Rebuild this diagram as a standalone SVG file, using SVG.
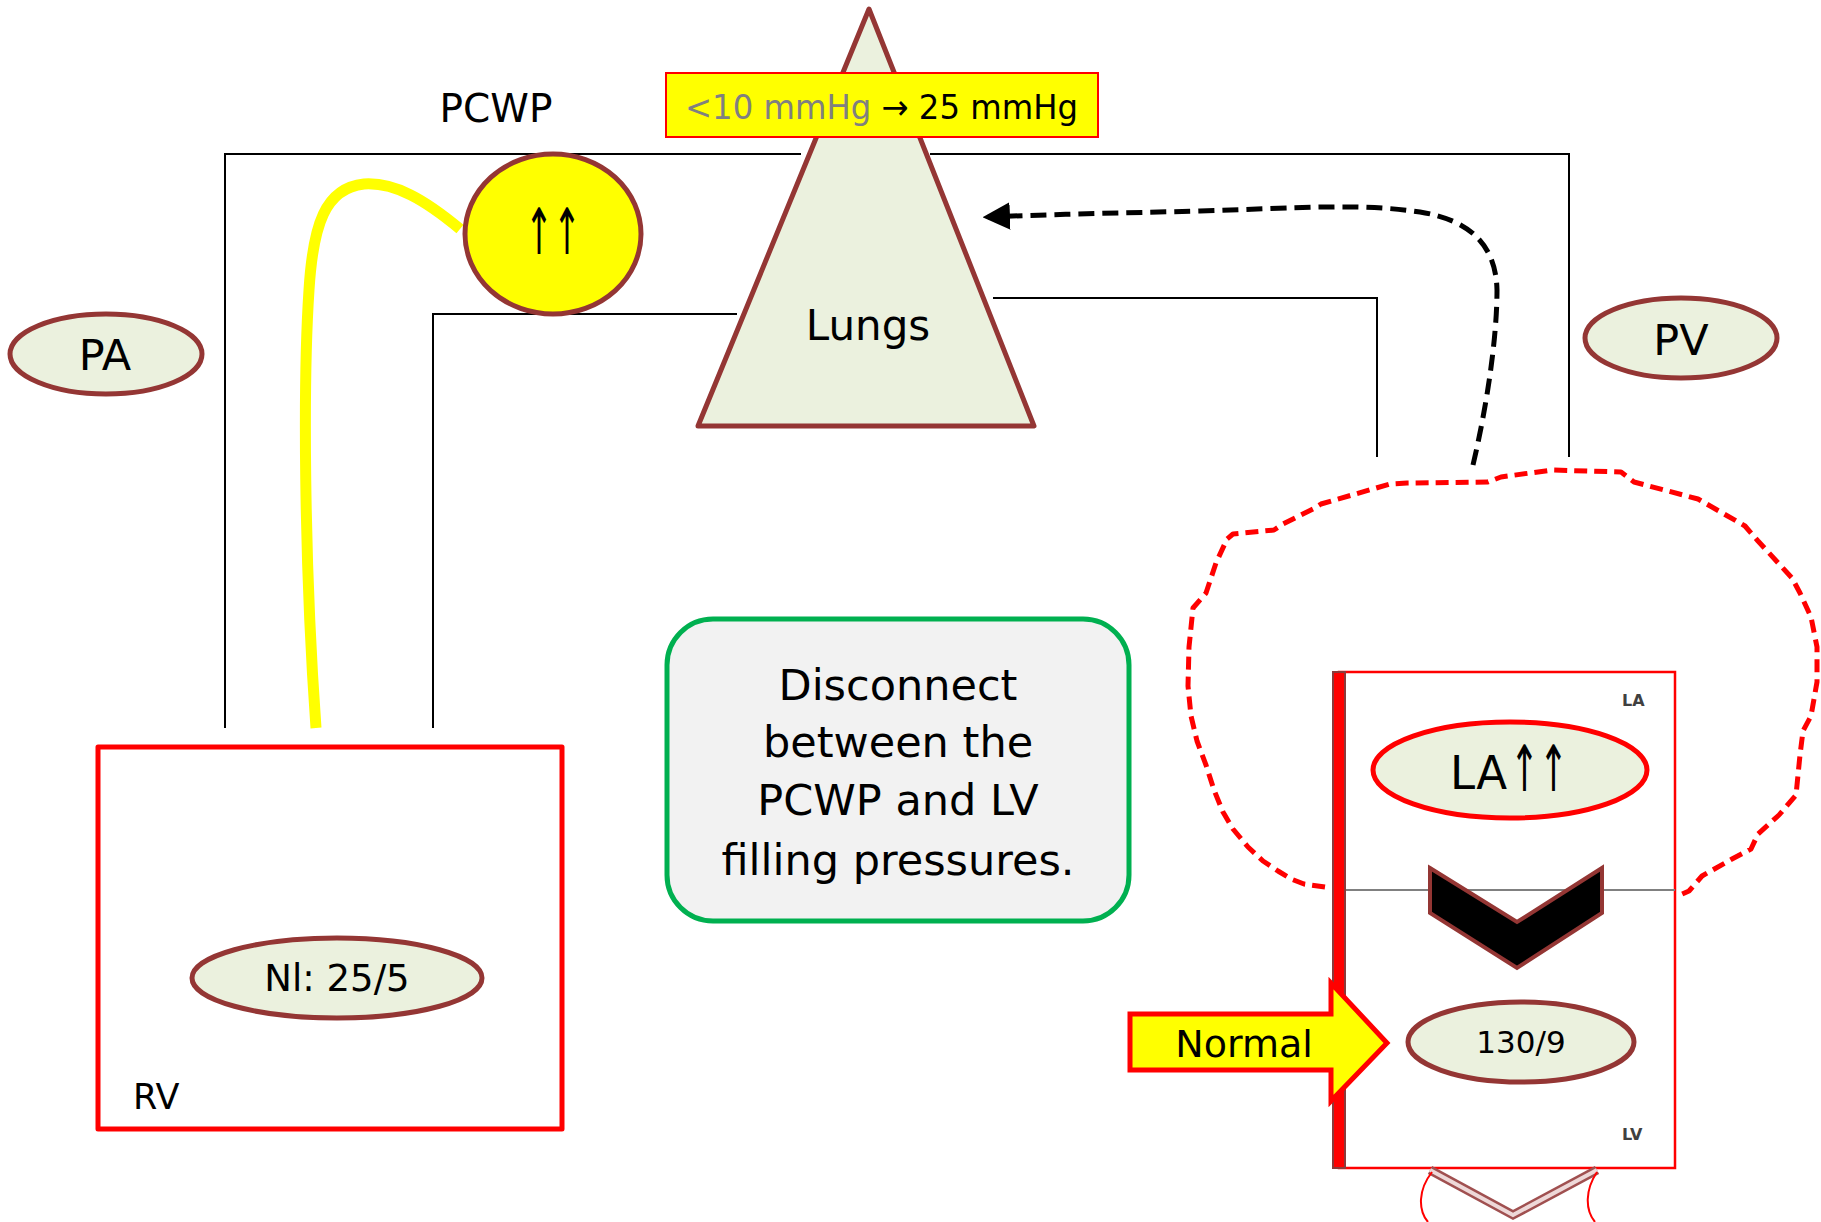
<svg xmlns="http://www.w3.org/2000/svg" width="1821" height="1222" viewBox="0 0 1821 1222">
  <style>
    text { font-family: "DejaVu Sans", sans-serif; fill: #000; }
    .oval { fill: #EBF1DE; stroke: #943634; stroke-width: 5; }
    .vessel { fill: none; stroke: #000; stroke-width: 2; }
    .mid { text-anchor: middle; }
  </style>
  <defs>
    <marker id="arrowL" viewBox="0 0 10 10" refX="8" refY="5" markerWidth="5.5" markerHeight="5.5" orient="auto" markerUnits="strokeWidth">
      <path d="M0,0 L10,5 L0,10 z" fill="#000"/>
    </marker>
  </defs>

  <!-- vessel outlines and flow lines -->
  <g id="connectors">
    <path class="vessel" d="M225,728 V154 H801"/>
    <path class="vessel" d="M930,154 H1569 V457"/>
    <path class="vessel" d="M433,728 V314 H737"/>
    <path class="vessel" d="M993,298 H1377 V457"/>
    <path d="M460,229 C425,200 395,182 364,184 C325,188 313,225 309,290 C303,380 304,560 316,728" fill="none" stroke="#FFFF00" stroke-width="11"/>
    <path d="M1473,465 C1486,410 1497,340 1497,290 C1496,245 1470,220 1420,212 C1360,203 1300,208 1200,211 C1120,213 1060,214 988,217" fill="none" stroke="#000" stroke-width="5" stroke-dasharray="16 8" marker-end="url(#arrowL)"/>
    <path d="M1325,887 L1304,884 L1291,879 L1278,871 L1263,861 L1248,847 L1233,829 L1223,812 L1214,790 L1206,765 L1197,741 L1191,716 L1188,686 L1189,647 L1193,608 L1206,593 L1216,563 L1227,539 L1233,534 L1274,530 L1283,524 L1313,509 L1321,504 L1390,484 L1407,483 L1488,482 L1501,477 L1552,470 L1621,472 L1634,482 L1698,499 L1745,526 L1758,541 L1792,578 L1800,593 L1811,617 L1817,647 L1817,682 L1811,716 L1803,731 L1800,755 L1796,795 L1779,815 L1758,834 L1751,849 L1732,859 L1702,876 L1689,891 L1678,896" fill="none" stroke="#FF0000" stroke-width="5" stroke-dasharray="13 7" stroke-linejoin="round"/>
  </g>

  <g id="lungs">
    <polygon points="869,9 1034,426 698,426" fill="#EBF1DE" stroke="#943634" stroke-width="5" stroke-linejoin="round"/>
    <text class="mid" x="868" y="340" font-size="42">Lungs</text>
  </g>

  <g id="pressure-label">
    <rect x="666" y="73" width="432" height="64" fill="#FFFF00" stroke="#FF0000" stroke-width="2"/>
    <text x="685" y="119" font-size="34" textLength="393" lengthAdjust="spacingAndGlyphs"><tspan style="fill:#808080">&lt;10 mmHg</tspan> → 25 mmHg</text>
  </g>

  <g id="pcwp">
    <text class="mid" x="496" y="122" font-size="39">PCWP</text>
    <ellipse cx="553" cy="234" rx="88" ry="80" fill="#FFFF00" stroke="#943634" stroke-width="5"/>
    <text x="525" y="254" font-size="64" textLength="56" lengthAdjust="spacingAndGlyphs">↑↑</text>
  </g>

  <g id="pa">
    <ellipse class="oval" cx="106" cy="354" rx="96" ry="40"/>
    <text class="mid" x="105" y="370" font-size="43">PA</text>
  </g>

  <g id="pv">
    <ellipse class="oval" cx="1681" cy="338" rx="96" ry="40"/>
    <text class="mid" x="1681" y="355" font-size="43">PV</text>
  </g>

  <g id="rv">
    <rect x="98" y="747" width="464" height="382" fill="none" stroke="#FF0000" stroke-width="5" stroke-linejoin="round"/>
    <ellipse class="oval" cx="337" cy="978" rx="145" ry="40"/>
    <text class="mid" x="337" y="991" font-size="37">Nl: 25/5</text>
    <text x="133" y="1109" font-size="35">RV</text>
  </g>

  <g id="note">
    <rect x="667" y="619" width="462" height="302" rx="46" ry="46" fill="#F2F2F2" stroke="#00B050" stroke-width="5"/>
    <text class="mid" x="898" y="700" font-size="43">Disconnect</text>
    <text class="mid" x="898" y="757" font-size="43">between the</text>
    <text class="mid" x="898" y="815" font-size="43">PCWP and LV</text>
    <text class="mid" x="898" y="875" font-size="43">filling pressures.</text>
  </g>

  <g id="left-heart">
    <rect x="1339" y="672" width="336" height="496" fill="#fff" stroke="#FF0000" stroke-width="2.5"/>
    <line x1="1333" y1="890" x2="1675" y2="890" stroke="#808080" stroke-width="2"/>
    <rect x="1333" y="672" width="12" height="496" fill="#FF0000" stroke="#8B3A3A" stroke-width="2"/>
    <text x="1622" y="706" font-size="16" font-weight="bold" style="fill:#404040">LA</text>
    <text x="1622" y="1140" font-size="16" font-weight="bold" style="fill:#404040">LV</text>
    <ellipse cx="1510" cy="770" rx="137" ry="48" fill="#EBF1DE" stroke="#FF0000" stroke-width="5"/>
    <text x="1450" y="789" font-size="47" textLength="57" lengthAdjust="spacingAndGlyphs">LA</text>
    <text x="1510" y="791" font-size="64" textLength="58" lengthAdjust="spacingAndGlyphs">↑↑</text>
    <polygon points="1430,868 1517,922 1602,868 1602,913 1517,968 1430,913" fill="#000" stroke="#943634" stroke-width="4" stroke-linejoin="miter"/>
    <ellipse class="oval" cx="1521" cy="1042" rx="113" ry="40"/>
    <text class="mid" x="1521" y="1053" font-size="31">130/9</text>
    <polyline points="1430,1170 1513,1215 1597,1170" fill="none" stroke="#A05050" stroke-width="9"/>
    <polyline points="1430,1170 1513,1215 1597,1170" fill="none" stroke="#EED8D8" stroke-width="4"/>
    <path d="M1432,1172 C1418,1190 1418,1210 1428,1222" fill="none" stroke="#FF0000" stroke-width="2"/>
    <path d="M1597,1172 C1585,1190 1585,1210 1595,1222" fill="none" stroke="#FF0000" stroke-width="2"/>
  </g>

  <g id="normal-arrow">
    <polygon points="1130,1014 1331,1014 1331,983 1387,1043 1331,1101 1331,1070 1130,1070" fill="#FFFF00" stroke="#FF0000" stroke-width="5"/>
    <text class="mid" x="1244" y="1057" font-size="38">Normal</text>
  </g>
</svg>
